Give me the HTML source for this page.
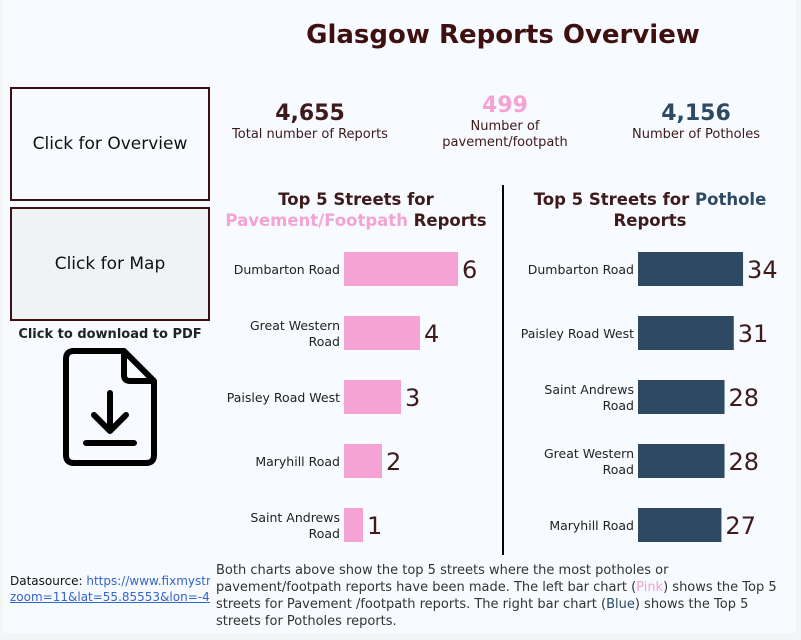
<!DOCTYPE html>
<html><head><meta charset="utf-8"><style>
body{margin:0;width:801px;height:640px;background:#f2f4f6;font-family:"DejaVu Sans",Verdana,sans-serif;position:relative;overflow:hidden}
#panel{position:absolute;left:3px;top:0;width:793px;height:633px;background:#f7faff}
.abs{position:absolute}
.btn{position:absolute;border:2px solid #3e1010;box-sizing:border-box;display:flex;align-items:center;justify-content:center;font-size:17px;color:#111}
.kpi{position:absolute;text-align:center;color:#3e1a1a;font-size:13px;line-height:16px}
.kpi b{display:block;font-size:22px;line-height:26px}
.ct{position:absolute;text-align:center;font-weight:bold;font-size:16.5px;color:#3e1a1a;line-height:21px}
</style></head><body>
<div id="panel"></div>
<div class="abs" style="left:250px;top:20px;width:506px;text-align:center;font-size:26px;font-weight:bold;color:#3e1010">Glasgow Reports Overview</div>
<div class="btn" style="left:10px;top:87px;width:200px;height:114px;background:#f7faff">Click for Overview</div>
<div class="btn" style="left:10px;top:207px;width:200px;height:114px;background:#eff3f5">Click for Map</div>
<div class="abs" style="left:10px;top:327px;width:200px;text-align:center;font-size:13px;font-weight:bold;color:#222">Click to download to PDF</div>
<svg class="abs" style="left:60px;top:345px" width="100" height="125" viewBox="0 0 100 125">
<path d="M14 6 H64 L94 36 V110 Q94 118 86 118 H14 Q6 118 6 110 V14 Q6 6 14 6 Z" fill="none" stroke="#000" stroke-width="6" stroke-linejoin="round"/>
<path d="M64 6 V30 Q64 36 70 36 H94" fill="none" stroke="#000" stroke-width="6" stroke-linejoin="round"/>
<path d="M50 48 V84 M34 70 L50 86 L66 70 M26 98 H74" fill="none" stroke="#000" stroke-width="6" stroke-linecap="round" stroke-linejoin="round"/>
</svg>
<div class="kpi" style="left:210px;top:101px;width:200px"><b>4,655</b>Total number of Reports</div>
<div class="kpi" style="left:420px;top:93px;width:170px"><b style="color:#f4a3d4">499</b>Number of<br>pavement/footpath</div>
<div class="kpi" style="left:596px;top:101px;width:200px"><b style="color:#2e4a63">4,156</b>Number of Potholes</div>
<div class="ct" style="left:210px;top:189px;width:292px">Top 5 Streets for<br><span style="color:#f4a3d4">Pavement/Footpath</span> Reports</div>
<div class="ct" style="left:505px;top:189px;width:290px">Top 5 Streets for <span style="color:#2e4a63">Pothole</span><br>Reports</div>
<div class="abs" style="left:502px;top:185px;width:2px;height:370px;background:#000"></div>
<svg id="charts" class="abs" style="left:0;top:0" width="801" height="560"></svg>
<div class="abs" style="left:10px;top:573px;width:200px;overflow:hidden;white-space:nowrap;font-size:12px;line-height:16px;color:#111">Datasource: <a style="color:#3366cc">https://www.fixmystreet.com/</a><br><a style="color:#3366cc;text-decoration:underline">zoom=11&amp;lat=55.85553&amp;lon=-4.2</a></div>
<div class="abs" style="left:216px;top:562px;width:570px;font-size:13px;line-height:17px;color:#333">Both charts above show the top 5 streets where the most potholes or pavement/footpath reports have been made. The left bar chart (<span style="color:#f4a3d4">Pink</span>) shows the Top 5 streets for Pavement /footpath reports. The right bar chart (<span style="color:#2e4a63">Blue</span>) shows the Top 5 streets for Potholes reports.</div>
<script>
const pavCats=[["Dumbarton Road"],["Great Western","Road"],["Paisley Road West"],["Maryhill Road"],["Saint Andrews","Road"]];
const pavVals=[6,4,3,2,1];
const potCats=[["Dumbarton Road"],["Paisley Road West"],["Saint Andrews","Road"],["Great Western","Road"],["Maryhill Road"]];
const potVals=[34,31,28,28,27];
const svg=document.getElementById('charts');const NS='http://www.w3.org/2000/svg';
function draw(cats,vals,x0,scale,color,prefix){
 vals.forEach((v,i)=>{
  const yc=269+i*64;
  const r=document.createElementNS(NS,'rect');
  r.setAttribute('x',x0);r.setAttribute('y',yc-17);r.setAttribute('width',v*scale);r.setAttribute('height',34);r.setAttribute('fill',color);
  
  
  svg.appendChild(r);
  const t=document.createElementNS(NS,'text');
  t.setAttribute('x',x0+v*scale+4);t.setAttribute('y',yc+9);t.setAttribute('font-size','24');t.setAttribute('fill','#3e1a1a');t.textContent=v;
  
  
  svg.appendChild(t);
  const lines=cats[i];
  lines.forEach((ln,j)=>{
   const l=document.createElementNS(NS,'text');
   l.setAttribute('x',x0-4);l.setAttribute('y',yc+5+(j-(lines.length-1)/2)*16);l.setAttribute('text-anchor','end');l.setAttribute('font-size','12.5');l.setAttribute('fill','#222');l.textContent=ln;
   
   
   svg.appendChild(l);
  });
 });
}
draw(pavCats,pavVals,344,19,'#f4a3d4','pavement');
draw(potCats,potVals,638,3.09,'#2e4a63','pothole');
</script>
</body></html>
